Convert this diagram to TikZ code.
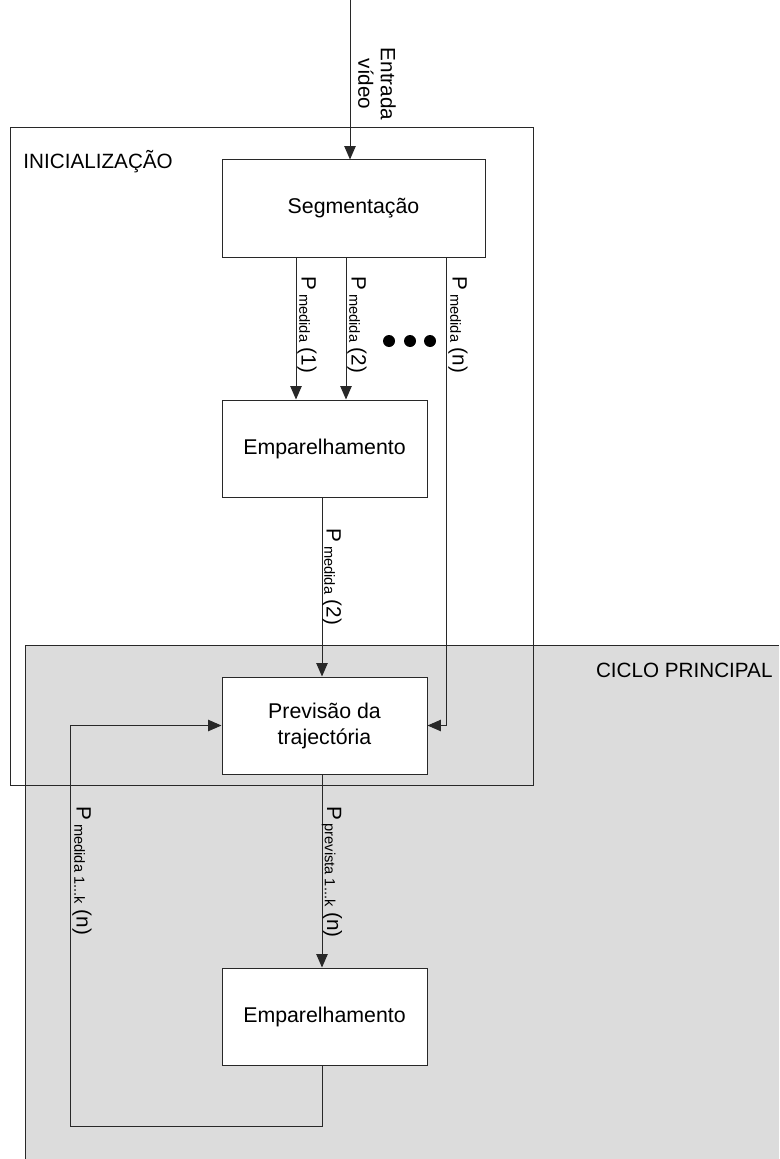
\documentclass[tikz,border=0pt]{standalone}
\usepackage{fontspec}
\setmainfont{Liberation Sans}
\usetikzlibrary{arrows.meta}
\definecolor{cyclegray}{RGB}{220,220,220}
\definecolor{edge}{RGB}{40,40,40}
% lowered small text for the P subscripts
\newcommand{\psub}[1]{\raisebox{-0.2ex}{\fontsize{11}{13}\selectfont #1}}
\begin{document}
\begin{tikzpicture}[x=0.75pt,y=-0.75pt,
  line width=0.75pt, draw=edge,
  box/.style={draw=edge, fill=white, minimum width=153.75pt, minimum height=72.75pt,
    font=\fontsize{16}{19.5}\selectfont, align=center, inner sep=0pt},
  arr/.style={-{Triangle[length=10pt,width=8.5pt]}},
  lab/.style={rotate=-90, font=\fontsize{15.5}{17}\selectfont, inner sep=0pt},
  title/.style={font=\fontsize{15.5}{18}\selectfont, inner sep=0pt},
  dot/.style={circle, fill=black, inner sep=0pt, minimum size=9pt},
]
\useasboundingbox (0,0) rectangle (779,1159);

% main-cycle region
\fill[cyclegray] (25,645) rectangle (779,1159);
\draw (25,1159) -- (25,645) -- (779,645);
% initialisation region
\draw (10,128) rectangle (533,785);

\node[title, anchor=west] (tini) at (23,162) {INICIALIZAÇÃO};
\node[title, anchor=east] (tcyc) at (773,670) {CICLO PRINCIPAL};

% blocks
\node[box, minimum width=197.25pt] (seg) at (353.5,208.5) {Segmentação};
\node[box] (emp1) at (324.5,448.5) {Emparelhamento};
\node[box] (prev) at (324.5,725.5) {Previsão da\\trajectória};
\node[box] (emp2) at (324.5,1016.5) {Emparelhamento};

% column positions of the connectors
\coordinate (cin) at (350,0);
\coordinate (c1) at (296,0);
\coordinate (c2) at (346,0);
\coordinate (cn) at (446,0);
\coordinate (cm) at (322,0);
\coordinate (fb) at (70,1126);

% video input
\draw[arr] (cin) -- (cin |- seg.north);
\node[lab, align=center] (lin) at (377,84) {Entrada\\vídeo};

% measurements from segmentation
\draw[arr] (seg.south -| c1) -- (emp1.north -| c1);
\draw[arr] (seg.south -| c2) -- (emp1.north -| c2);
\draw[arr] (seg.south -| cn) -- (cn |- prev.east) -- (prev.east);
\node[lab] (l1) at (307,325) {P\,\psub{medida}\ (1)};
\node[lab] (l2) at (357,325) {P\,\psub{medida}\ (2)};
\node[lab] (ln) at (458,325) {P\,\psub{medida}\ (n)};
\node[dot] (d1) at (389,341) {};
\node[dot] (d2) at (410,341) {};
\node[dot] (d3) at (430,341) {};

% matching to prediction
\draw[arr] (emp1.south -| cm) -- (prev.north -| cm);
\node[lab] (l3) at (332,577) {P\,\psub{medida}\ (2)};

% prediction to matching
\draw[arr] (prev.south -| cm) -- (emp2.north -| cm);
\node[lab] (l4) at (332,872) {P\,\psub{prevista 1...k}\ (n)};

% feedback loop
\draw[arr] (emp2.south -| cm) -- (cm |- fb) -- (fb) -- (fb |- prev.west) -- (prev.west);
\node[lab] (l5) at (82,871) {P\,\psub{medida 1...k}\ (n)};
\end{tikzpicture}
\end{document}
